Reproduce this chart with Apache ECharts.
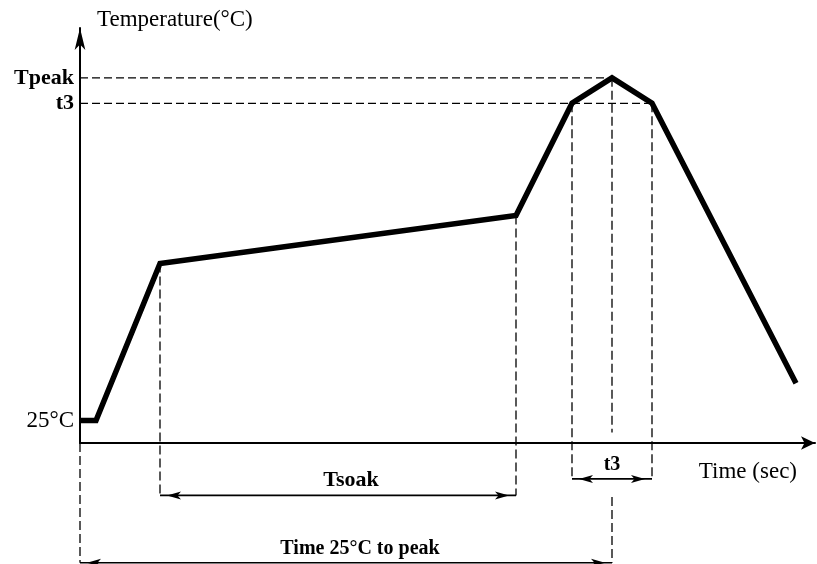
<!DOCTYPE html>
<html>
<head>
<meta charset="utf-8">
<script src="https://cdn.jsdelivr.net/npm/echarts@6/dist/echarts.min.js"></script>
<style>
	html, body { margin: 0; padding: 0; background: #fff; }
	#chart { width: 817px; height: 564px; }
</style>
</head>
<body>
<div id="chart"></div>
<script>
// reflow profile (time in s, temperature in deg C)
var profileTime = [0, 8, 40, 218, 246, 266, 286, 358];
var profileTemp = [25, 25, 130, 162, 237, 254, 237, 50];

// labels on the temperature axis: [text, profile point]
var levelNames = ['Tpeak', 't3', '25°C'];
var levelPoints = [5, 6, 0];

// horizontal dashed guides, from the axis to these profile points
var hGuidePoints = [5, 6];

// vertical dashed guides: [profile point, lower temp, upper temp (optional)]
var vGuides = [
	[0, -70, 10],
	[2, -25],
	[3, -25],
	[4, -14],
	[6, -14],
	[5, 17],
	[5, -70, -26]
];

// spans under the axis: name, from point, to point, temperature level
var spanNames = ['Tsoak', 't3', 'Time 25°C to peak'];
var spanFrom = [2, 4, 0];
var spanTo = [3, 6, 5];
var spanLevel = [-25, -14, -70];

var FONT = 'Liberation Serif';

function initPage() {
	var myChart = echarts.init(document.getElementById('chart'));
	var series = [];

	// profile
	series.push({
		type : 'line',
		data : profileTime.map(function(t, i) { return [t, profileTemp[i]]; }),
		symbol : 'none',
		silent : true,
		z : 5,
		lineStyle : { color : '#000', width : 5.5, join : 'miter' }
	});

	hGuidePoints.forEach(function(p) {
		series.push({
			type : 'line',
			data : [[0, profileTemp[p]], [profileTime[p], profileTemp[p]]],
			symbol : 'none',
			silent : true,
			clip : false,
			z : 2,
			lineStyle : { color : '#000', width : 1.3, type : [8, 4] }
		});
	});

	vGuides.forEach(function(g) {
		var t = profileTime[g[0]];
		var top = g.length > 2 ? g[2] : profileTemp[g[0]];
		series.push({
			type : 'line',
			data : [[t, top], [t, g[1]]],
			symbol : 'none',
			silent : true,
			clip : false,
			z : 2,
			lineStyle : { color : '#000', width : 1.3, type : [9, 4] }
		});
	});

	// double arrows with their names
	var spanLabels = [];
	spanNames.forEach(function(name, i) {
		var t1 = profileTime[spanFrom[i]], t2 = profileTime[spanTo[i]];
		series.push({
			type : 'line',
			data : [
				{ value : [t1, spanLevel[i]], symbol : 'arrow', symbolRotate : 90, symbolOffset : [7, 0] },
				{ value : [t2, spanLevel[i]], symbol : 'arrow', symbolRotate : -90, symbolOffset : [-7, 0] }
			],
			symbolSize : [6, 14],
			showSymbol : true,
			silent : true,
			clip : false,
			z : 3,
			itemStyle : { color : '#000' },
			lineStyle : { color : '#000', width : 1.6 }
		});
		spanLabels.push({ value : [(t1 + t2) / 2, spanLevel[i]], name : name });
	});
	// the two long captions sit a little right of the middle
	spanLabels[0].label = { offset : [13, 0], fontSize : 22 };
	spanLabels[2].label = { offset : [14, 0] };

	series.push({
		type : 'scatter',
		data : spanLabels,
		symbol : 'circle',
		symbolSize : 0,
		clip : false,
		silent : true,
		itemStyle : { color : '#000', opacity : 1 },
		label : {
			show : true,
			position : 'top',
			distance : 4,
			formatter : '{b}',
			fontFamily : FONT,
			fontWeight : 'bold',
			fontSize : 20,
			color : '#000'
		}
	});

	series.push({
		type : 'scatter',
		data : levelNames.map(function(n, i) {
			return {
				value : [0, profileTemp[levelPoints[i]]],
				name : n,
				label : n === '25°C' ? { fontWeight : 'normal', fontSize : 23 } : {}
			};
		}),
		symbol : 'circle',
		symbolSize : 0,
		clip : false,
		silent : true,
		itemStyle : { color : '#000', opacity : 1 },
		label : {
			show : true,
			position : 'left',
			distance : 6,
			formatter : '{b}',
			fontFamily : FONT,
			fontWeight : 'bold',
			fontSize : 22,
			color : '#000'
		}
	});

	myChart.setOption({
		animation : false,
		grid : { left : 80, right : 2, top : 28, bottom : 121 },
		xAxis : {
			type : 'value',
			min : 0,
			max : 367.5,
			name : 'Time (sec)',
			nameLocation : 'end',
			nameGap : -18,
			nameTextStyle : {
				fontFamily : FONT, fontSize : 23, color : '#000',
				align : 'right', verticalAlign : 'top', lineHeight : 58
			},
			axisLine : {
				onZero : false,
				symbol : ['none', 'arrow'],
				symbolSize : [10, 14],
				lineStyle : { color : '#000', width : 2 }
			},
			axisTick : { show : false },
			axisLabel : { show : false },
			splitLine : { show : false }
		},
		yAxis : {
			type : 'value',
			min : 10,
			max : 287.3,
			name : 'Temperature(°C)',
			nameLocation : 'end',
			nameGap : -3,
			nameTextStyle : {
				fontFamily : FONT, fontSize : 23, color : '#000',
				align : 'left', padding : [0, 0, 0, 17]
			},
			axisLine : {
				onZero : false,
				symbol : ['none', 'arrow'],
				symbolSize : [8, 22],
				lineStyle : { color : '#000', width : 2 }
			},
			axisTick : { show : false },
			axisLabel : { show : false },
			splitLine : { show : false }
		},
		series : series
	});
}

initPage();
</script>
</body>
</html>
